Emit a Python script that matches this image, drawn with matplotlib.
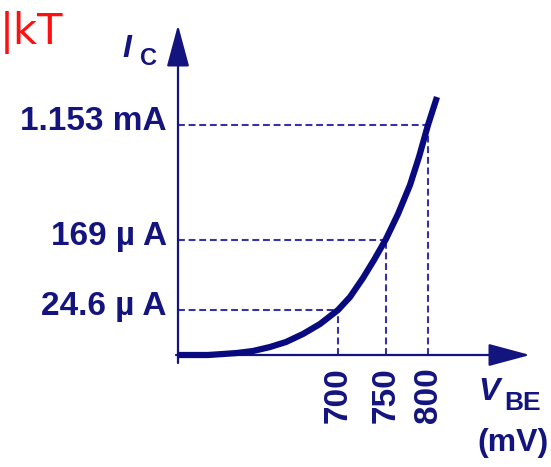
import matplotlib.pyplot as plt

# schematic I_C vs V_BE curve (axis units, origin at axes corner)
curve_x = [0, 30, 45, 59, 75, 92, 108, 125, 142, 160, 172, 185, 196, 208, 220, 232, 241, 250, 259]
curve_y = [0, 0, 1, 2, 4, 8, 13, 21, 31, 45, 58, 77, 95, 116, 141, 170, 198, 230, 258]

vbe_labels = ['700', '750', '800']
vbe_pos = [160, 208, 250]
ic_labels = ['24.6 \u00b5 A', '169 \u00b5 A', '1.153 mA']
ic_pos = [45, 115, 230]

NAVY = '#14147f'
AXIS = '#3434a4'

plt.rcParams['font.family'] = ['Liberation Sans', 'DejaVu Sans']

fig = plt.figure(figsize=(5.51, 4.67), dpi=100)
ax = fig.add_axes([0, 0, 1, 1])
ax.set_xlim(-178, 373)
ax.set_ylim(-112, 355)
ax.axis('off')

# axes with arrow heads
arrow = dict(arrowstyle='-|>,head_length=1.3,head_width=0.35', mutation_scale=20,
             lw=1.6, color=AXIS, fc=NAVY, ec=NAVY, shrinkA=0, shrinkB=0)
ax.annotate('', xy=(352, 0), xytext=(-2, 0), arrowprops=arrow)
ax.annotate('', xy=(0, 330), xytext=(0, -8), arrowprops=arrow)

# dashed guide lines from each labelled point
for xp, yp in zip(vbe_pos, ic_pos):
    ax.plot([0, xp], [yp, yp], color=AXIS, lw=1.5, dashes=(3.3, 1.8))
    ax.plot([xp, xp], [0, yp], color=AXIS, lw=1.5, dashes=(3.3, 1.8))

ax.plot(curve_x, curve_y, color='#0a0a80', lw=4.5, solid_capstyle='butt',
        solid_joinstyle='round', zorder=3)

for lab, yp in zip(ic_labels, ic_pos):
    ax.text(-11, yp + 4, lab, ha='right', va='center', fontsize=24,
            fontweight='bold', color=NAVY)

for lab, xp in zip(vbe_labels, vbe_pos):
    ax.text(xp, -12, lab, ha='center', va='top', rotation=90, fontsize=24,
            fontweight='bold', color=NAVY)

# axis titles
ax.text(-56, 321, 'I', ha='left', va='top', fontsize=23, fontweight='bold',
        style='italic', color=NAVY)
ax.text(-38, 308, 'C', ha='left', va='top', fontsize=17, fontweight='bold', color=NAVY)
ax.text(300, -22, 'V', ha='left', va='top', fontsize=23, fontweight='bold',
        style='italic', color=NAVY)
ax.text(326, -36, 'BE', ha='left', va='top', fontsize=19, fontweight='bold', color=NAVY)
ax.text(335, -73, '(mV)', ha='center', va='top', fontsize=23, fontweight='bold', color=NAVY)

# red handwritten note in the corner
ax.text(-178, 323, '|kT', ha='left', va='center', fontsize=30, color='#ff1010',
        family='DejaVu Sans')

fig.savefig('out.png', dpi=100)
